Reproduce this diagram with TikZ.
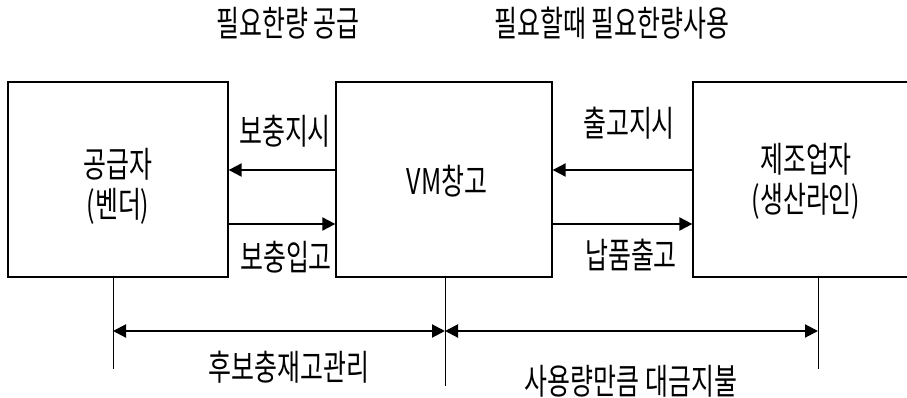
\documentclass[tikz,border=0pt]{standalone}
\usepackage{fontspec}
\newfontfamily\kr{Noto Sans CJK KR}
\usetikzlibrary{arrows.meta}
\newcommand\kt[1]{\scalebox{0.86}[1.22]{#1}}
\newcommand\ktt[2]{\scalebox{0.86}[1.22]{\def\arraystretch{0.82}\begin{tabular}{@{}c@{}}#1\\#2\end{tabular}}}
\begin{document}
\begin{tikzpicture}[x=1pt,y=1pt,
  every node/.style={font=\kr\fontsize{29}{36}\selectfont, inner sep=0pt},
  box/.style={draw, line width=1.3pt, minimum height=195pt},
  flow/.style={line width=2pt, -{Triangle[length=13pt,width=13pt]}},
  dimline/.style={line width=2pt, {Triangle[length=13pt,width=13pt]}-{Triangle[length=13pt,width=13pt]}},
  lead/.style={line width=1pt}
]
\useasboundingbox (0,0) rectangle (907,397);
\clip (0,0) rectangle (907,397);
\fill[white] (0,0) rectangle (907,397);

% boxes
\node[box, minimum width=220pt] (sup) at (118,217.5) {};
\node[box, minimum width=216pt] (vm) at (444,217.5) {};
\node[box, minimum width=250pt] (mfg) at (818,217.5) {};

\node (supt) at ([yshift=-9pt]sup.center) {\ktt{공급자}{(벤더)}};
\node (vmt) at ([yshift=-2pt,xshift=3pt]vm.center) {\kt{VM창고}};
\node (mfgt) at ([yshift=-4pt,xshift=-12pt]mfg.center) {\ktt{제조업자}{(생산라인)}};

% top texts
\node (top1) at (288,374) {\kt{필요한량 공급}};
\node (top2) at (612,374) {\kt{필요할때 필요한량사용}};

% flows
\draw[flow] ([yshift=9.5pt]vm.west) -- ([yshift=9.5pt]sup.east);
\draw[flow] ([yshift=-44.5pt]sup.east) -- ([yshift=-44.5pt]vm.west);
\draw[flow] ([yshift=9.5pt]mfg.west) -- ([yshift=9.5pt]vm.east);
\draw[flow] ([yshift=-44.5pt]vm.east) -- ([yshift=-44.5pt]mfg.west);

\node (l1) at (285,266) {\kt{보충지시}};
\node (l2) at (286,140) {\kt{보충입고}};
\node (l3) at (629,274) {\kt{출고지시}};
\node (l4) at (631,142) {\kt{납품출고}};

% leaders
\coordinate (la) at ([xshift=-5pt]sup.south);
\coordinate (lb) at ([xshift=1pt]vm.south);
\coordinate (lc) at (mfg.south);
\draw[lead] (la) -- ++(0,-91) coordinate (la2);
\draw[lead] (lb) -- ++(0,-108) coordinate (lb2);
\draw[lead] (lc) -- ++(0,-91) coordinate (lc2);

\coordinate (da) at (la |- 0,66);
\coordinate (db) at (lb |- 0,66);
\coordinate (dc) at (lc |- 0,66);
\draw[dimline] (da) -- (db);
\draw[dimline] (db) -- (dc);

\node (b1) at (289,30) {\kt{후보충재고관리}};
\node (b2) at (631,16) {\kt{사용량만큼 대금지불}};
\end{tikzpicture}
\end{document}
